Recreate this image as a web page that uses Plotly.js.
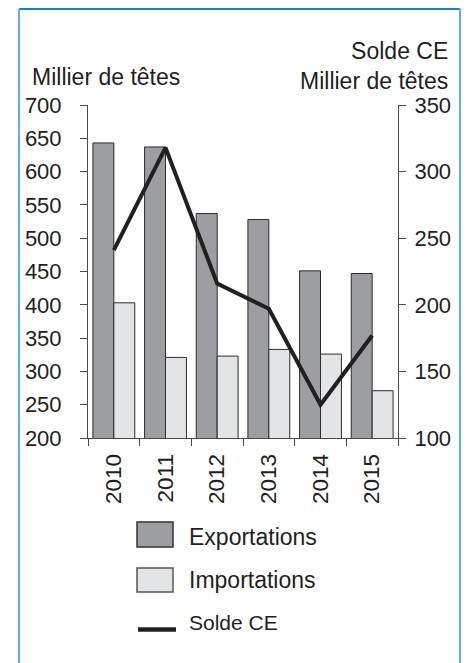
<!DOCTYPE html>
<html>
<head>
<meta charset="utf-8">
<script src="https://cdn.plot.ly/plotly-3.0.1.min.js"></script>
<style>html,body{margin:0;padding:0;background:#fff;}#chart{width:469px;height:663px;}</style>
</head>
<body>
<div id="chart"></div>
<script>
const years = ["2010", "2011", "2012", "2013", "2014", "2015"];
const exportations = [643, 637, 537, 528, 451, 447];
const importations = [403, 321, 323, 333, 326, 271];
const soldeCE = [241, 318, 216, 197, 125, 177];
const seriesNames = ["Exportations", "Importations", "Solde CE"];
const leftTitle = "Millier de têtes";
const rightTitle = "Solde CE<br>Millier de têtes";

const textColor = "#231f20";
const axisColor = "#4a4a4a";
const font = "Liberation Sans, Arial, Helvetica, sans-serif";
const expColor = "#9d9ea2";
const impColor = "#e3e4e6";

const traces = [
  {type: "bar", name: seriesNames[0], x: years, y: exportations,
   marker: {color: expColor, line: {color: "#2b2b2b", width: 1}}, showlegend: false},
  {type: "bar", name: seriesNames[1], x: years, y: importations,
   marker: {color: impColor, line: {color: "#2b2b2b", width: 1}}, showlegend: false},
  {type: "scatter", mode: "lines", name: seriesNames[2], x: years, y: soldeCE, yaxis: "y2",
   line: {color: textColor, width: 4}, showlegend: false}
];

// paper coordinate helpers (plot area 88..398 x, 105..438 y)
const px = v => (v - 88) / 310;
const py = v => (438 - v) / 333;

const shapes = [
  // frame
  {type: "line", xref: "paper", yref: "paper", x0: px(19), x1: px(460), y0: py(9), y1: py(9), line: {color: "#1a7ccc", width: 2}},
  {type: "line", xref: "paper", yref: "paper", x0: px(19), x1: px(19), y0: py(9), y1: py(700), line: {color: "#5eaee2", width: 2}},
  {type: "line", xref: "paper", yref: "paper", x0: px(460), x1: px(460), y0: py(9), y1: py(700), line: {color: "#5eaee2", width: 2}},
  // legend swatches
  {type: "rect", xref: "paper", yref: "paper", x0: px(137), x1: px(173), y0: py(522), y1: py(547), fillcolor: expColor, line: {color: "#333", width: 1.5}},
  {type: "rect", xref: "paper", yref: "paper", x0: px(137), x1: px(173), y0: py(568), y1: py(592), fillcolor: impColor, line: {color: "#555", width: 1.5}},
  {type: "line", xref: "paper", yref: "paper", x0: px(138), x1: px(176), y0: py(629.5), y1: py(629.5), line: {color: textColor, width: 4.5}}
];

const annotations = [
  {xref: "paper", yref: "paper", x: px(30), y: py(77), xanchor: "left", yanchor: "middle", showarrow: false,
   text: leftTitle, font: {family: font, size: 23, color: textColor}},
  {xref: "paper", yref: "paper", x: px(450), y: py(66), xanchor: "right", yanchor: "middle", showarrow: false, align: "right",
   text: rightTitle, font: {family: font, size: 23, color: textColor}},
  {xref: "paper", yref: "paper", x: px(187), y: py(537), xanchor: "left", yanchor: "middle", showarrow: false,
   text: seriesNames[0], font: {family: font, size: 23, color: textColor}},
  {xref: "paper", yref: "paper", x: px(187), y: py(580), xanchor: "left", yanchor: "middle", showarrow: false,
   text: seriesNames[1], font: {family: font, size: 23, color: textColor}},
  {xref: "paper", yref: "paper", x: px(187), y: py(622), xanchor: "left", yanchor: "middle", showarrow: false,
   text: seriesNames[2], font: {family: font, size: 21, color: textColor}}
];

const layout = {
  width: 469, height: 663,
  margin: {l: 88, r: 71, t: 105, b: 225, pad: 0},
  paper_bgcolor: "#ffffff", plot_bgcolor: "#ffffff",
  barmode: "group", bargap: 0.19, bargroupgap: 0,
  showlegend: false,
  font: {family: font, color: textColor},
  xaxis: {type: "category", tickson: "boundaries", ticks: "outside", ticklen: 7, tickcolor: axisColor,
          showline: true, linecolor: axisColor, linewidth: 1, showgrid: false, zeroline: false,
          tickangle: -90, tickfont: {family: font, size: 22.5, color: textColor}, ticklabelstandoff: 6},
  yaxis: {range: [200, 700], dtick: 50, ticks: "outside", ticklen: 7, tickcolor: axisColor,
          showline: true, linecolor: axisColor, linewidth: 1, showgrid: false, zeroline: false,
          tickfont: {family: font, size: 22, color: textColor}, ticklabelstandoff: 14},
  yaxis2: {range: [100, 350], dtick: 50, overlaying: "y", side: "right", ticks: "outside", ticklen: 7, tickcolor: axisColor,
           showline: true, linecolor: axisColor, linewidth: 1, showgrid: false, zeroline: false,
           tickfont: {family: font, size: 22, color: textColor}, ticklabelstandoff: 4},
  shapes: shapes,
  annotations: annotations
};

Plotly.newPlot("chart", traces, layout, {displayModeBar: false, staticPlot: true});
</script>
</body>
</html>
